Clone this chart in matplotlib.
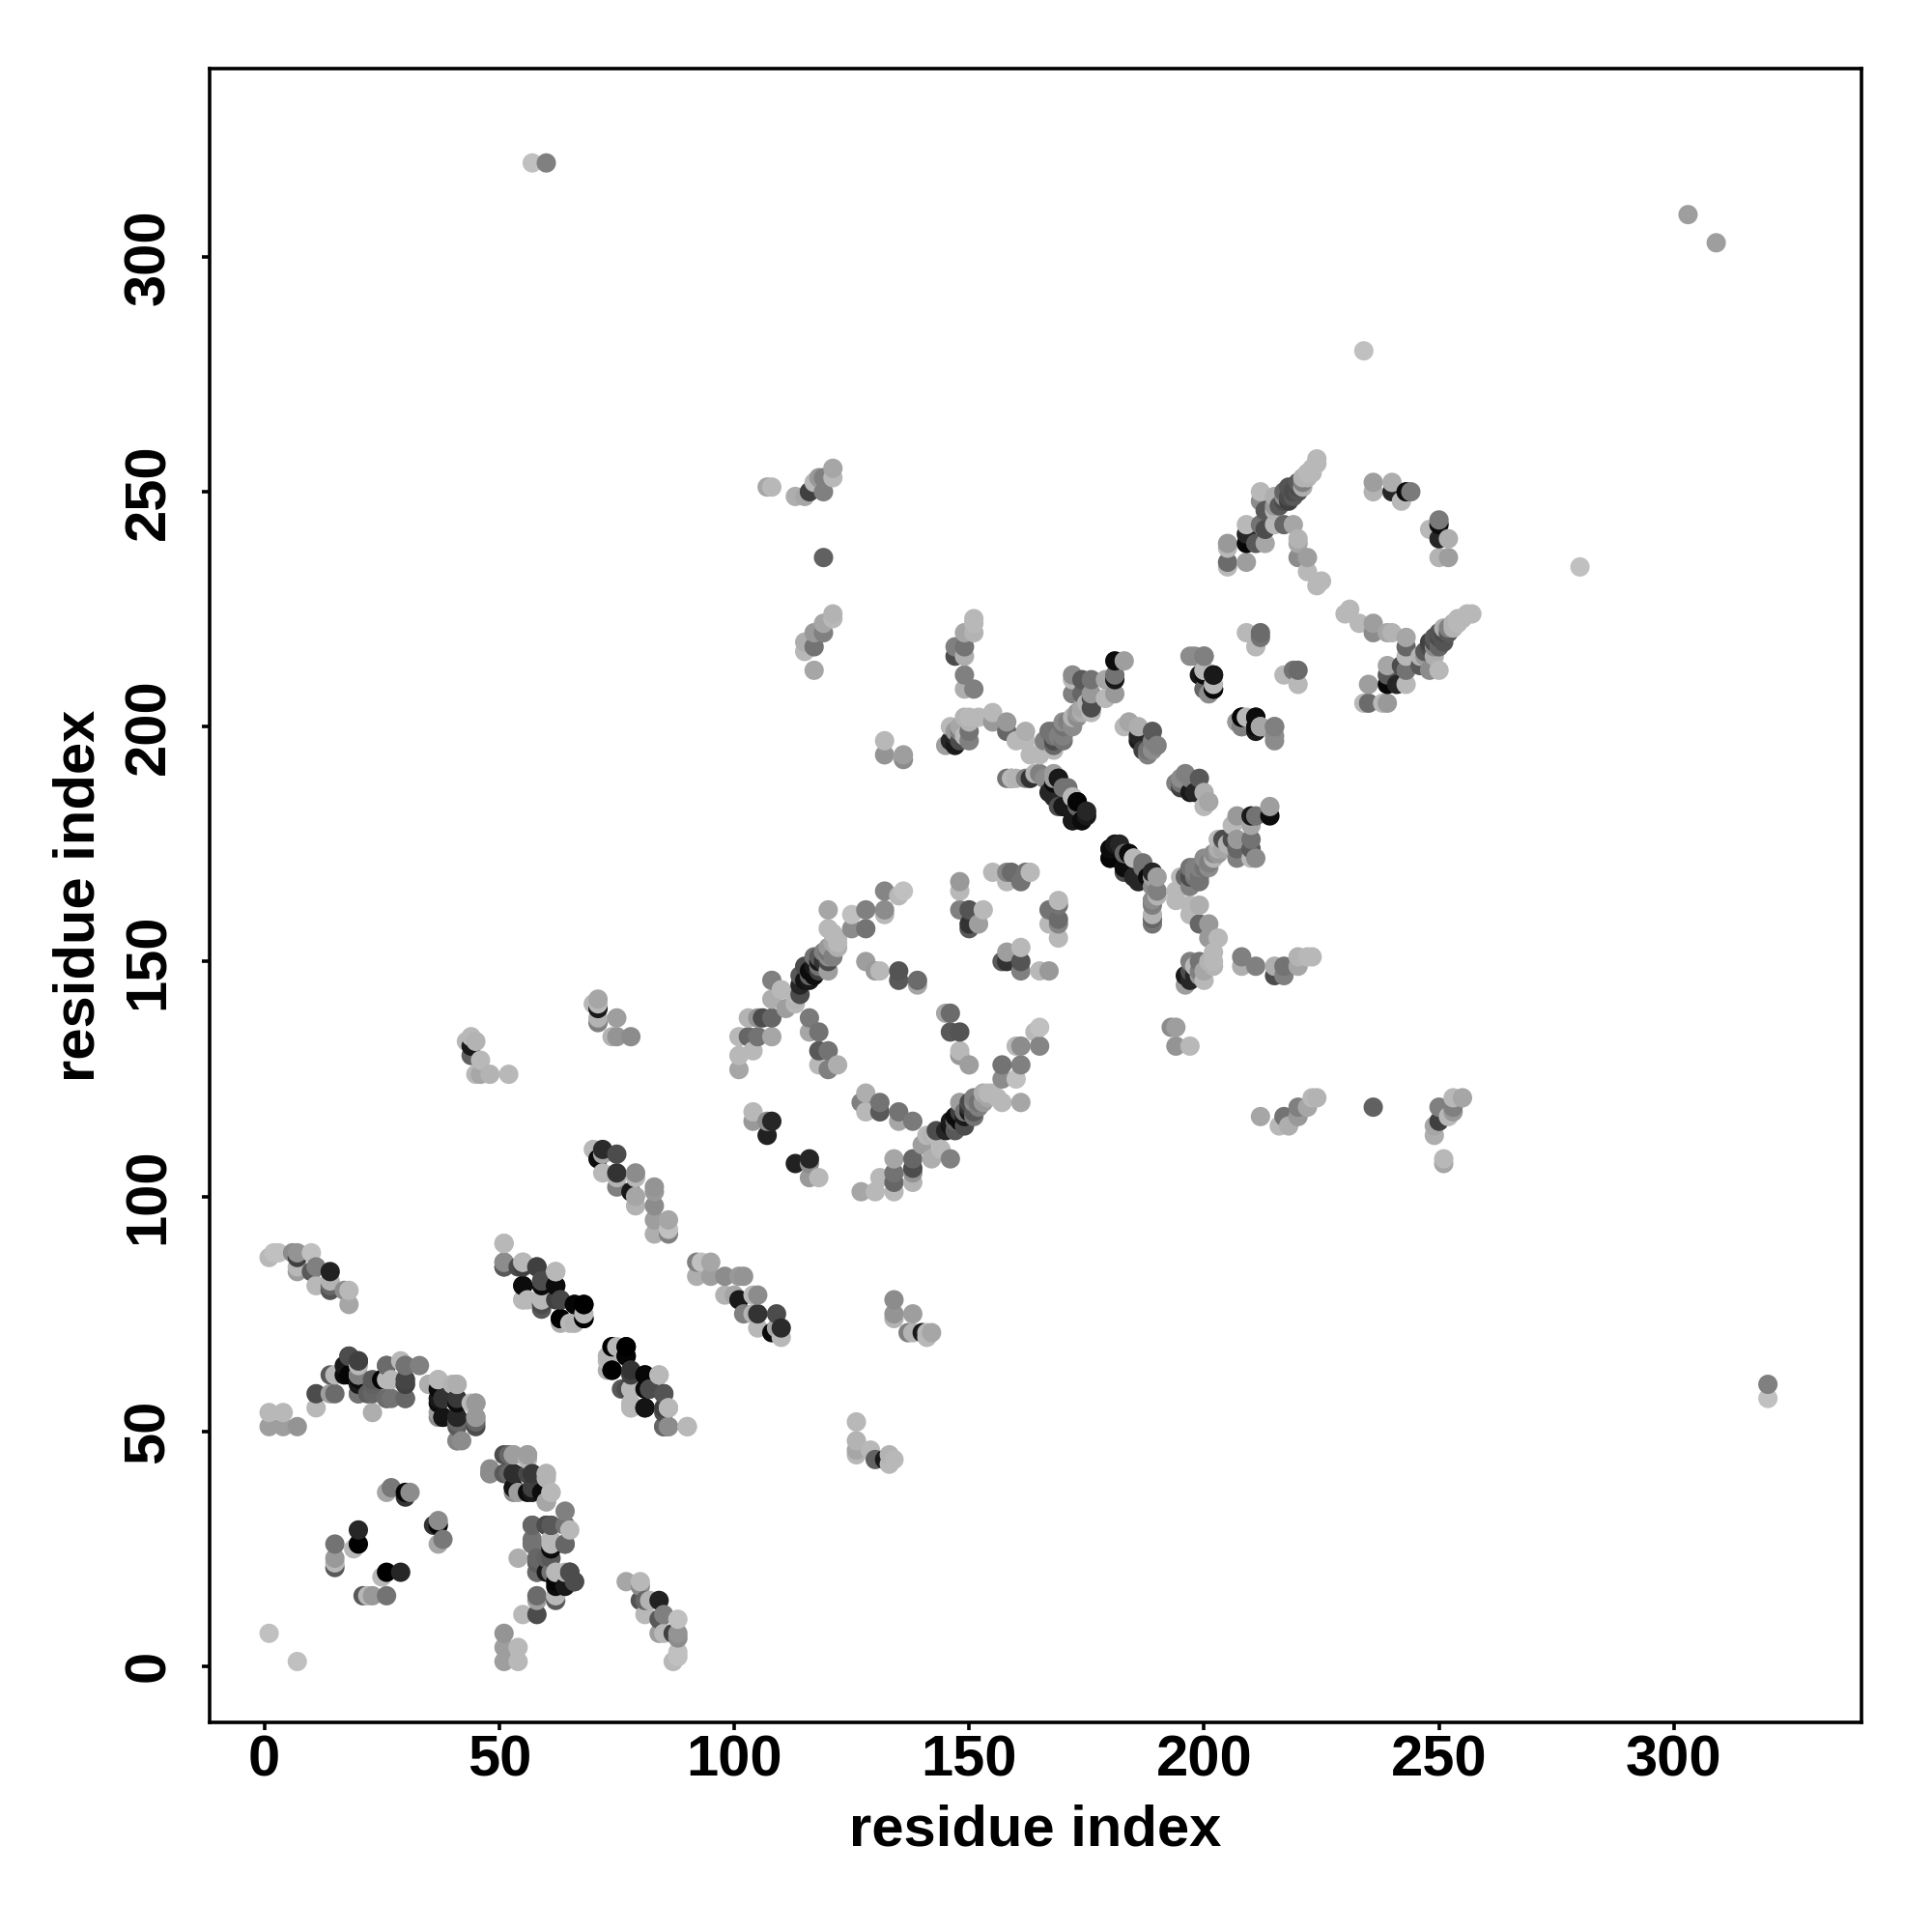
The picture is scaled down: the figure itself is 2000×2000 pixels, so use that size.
import numpy as np
import matplotlib
matplotlib.use('Agg')
import matplotlib.pyplot as plt

# contact map, symmetric: each contact is listed once as (i, j, grey level)
far_pairs = [(1, 7, .75), (57, 320, .75), (60, 320, .5), (303, 309, .62), (234, 280, .75), (236, 119, .38)]

blob_1_88 = [(1, 87, .72), (2, 88, .75), (3, 88, .75), (6, 88, .55), (7, 84, .62), (7, 85, .72), (7, 87, .25),
             (7, 88, .58), (10, 88, .75), (10, 84, .35), (11, 85, .5), (11, 81, .72), (14, 84, .13), (14, 82, .7),
             (14, 81, .4), (14, 80, .33), (17, 80, .55), (18, 80, .72), (18, 77, .65)]

blob_1_66 = [(1, 54, .72), (4, 54, .72), (1, 51, .62), (4, 51, .62), (7, 51, .58), (11, 58, .3), (11, 55, .72),
             (14, 58, .62), (15, 58, .42), (14, 62, .35), (15, 62, .72), (18, 66, .3), (20, 65, .3), (17, 64, .1),
             (17, 62, .05), (20, 61, .45), (20, 62, .72), (20, 60, .1), (20, 58, .42), (23, 60, .38), (23, 58, .4),
             (23, 54, .68), (26, 64, .4), (25, 61, .05), (27, 61, .72), (26, 57, .45), (27, 57, .45), (29, 65, .72),
             (30, 64, .45), (30, 61, .35), (30, 60, .3), (30, 57, .4), (33, 64, .5), (35, 60, .65), (37, 61, .72),
             (37, 57, .1), (40, 60, .7), (41, 60, .7), (38, 57, .25), (37, 54, .62), (38, 53, .08), (41, 56, .28),
             (41, 53, .18), (41, 51, .35), (44, 56, .72), (45, 56, .62), (45, 53, .62), (45, 51, .3), (41, 48, .55),
             (42, 48, .55)]

ring_15_38 = [(21, 15, .35), (22, 15, .72), (23, 15, .6), (26, 15, .45), (25, 19, .72), (26, 20, 0), (29, 20, .15),
              (37, 26, .65), (38, 27, .47), (36, 30, .2), (37, 30, .02), (37, 31, .55)]

blob_47_66 = [(48, 41, .52), (52, 45, .4), (53, 45, .6), (56, 45, .6), (52, 41, .4), (53, 41, .15), (53, 38, .08),
              (53, 37, .55), (56, 41, .05), (57, 41, .22), (57, 38, .2), (56, 37, .05), (60, 41, .68), (60, 35, .68),
              (61, 37, .72), (59, 37, .05), (57, 30, .4), (60, 30, .25), (61, 30, .27), (64, 30, .45), (57, 26, .42),
              (61, 26, .72), (61, 25, .02), (64, 26, .42), (61, 23, .35), (58, 22, .37), (58, 20, .45), (61, 20, .05),
              (62, 20, .5), (62, 18, .02), (64, 20, .72), (65, 20, .25), (66, 18, .3)]

blob_51_90 = [(51, 90, .72), (51, 86, .55), (51, 85, .4), (55, 86, .72), (54, 85, .3), (58, 85, .33), (62, 84, .72),
              (59, 82, .3), (55, 81, .08), (55, 78, .72), (56, 78, .72), (59, 78, .72), (59, 76, .35), (62, 81, .03),
              (63, 78, .2), (62, 78, .25), (66, 77, .02), (68, 77, 0), (63, 74, 0), (66, 73, .7), (68, 75, .72),
              (68, 74, 0), (74, 68, 0), (77, 68, 0), (73, 65, .72), (77, 66, .02), (74, 63, 0), (73, 63, .68),
              (78, 63, .28), (81, 62, .05), (84, 62, .72), (77, 59, .3), (78, 59, .72), (82, 59, .3), (81, 59, .05),
              (85, 58, .25), (78, 55, .72), (81, 55, .05), (86, 55, .72), (85, 55, .25), (85, 51, .35), (86, 51, .55),
              (90, 51, .72)]

blob_92_110 = [(92, 86, .5), (93, 86, .75), (95, 86, .65), (92, 83, .68), (95, 83, .62), (98, 83, .55), (101, 83, .6),
               (102, 83, .58), (98, 79, .7), (100, 79, .65), (101, 78, .1), (104, 79, .72), (105, 79, .55),
               (102, 75, .5), (105, 75, .2), (104, 75, .7), (109, 75, .3), (105, 72, .72), (109, 72, .65),
               (110, 72, .17), (110, 70, .72), (108, 71, .05)]

blob_134_142 = [(134, 78, .55), (134, 75, .58), (134, 74, .7), (138, 75, .62), (137, 71, .5), (138, 71, .7),
                (140, 71, .1), (141, 71, .72), (142, 71, .65), (141, 70, .72)]

blob_126_134 = [(126, 52, .72), (126, 48, .7), (126, 46, .65), (126, 45, .72), (129, 46, .72), (130, 44, .38),
                (132, 44, .1), (133, 45, .7), (134, 44, .72), (133, 43, .72)]

ring_104_118 = [(113, 107, .13), (116, 107, .55), (116, 108, .15), (116, 104, .6), (118, 104, .72)]

arm_127_165 = [(127, 101, .65), (130, 101, .72), (134, 101, .72), (131, 104, .72), (134, 105, .45), (134, 103, .4),
               (134, 108, .65), (138, 108, .4), (138, 106, .3), (138, 105, .58), (138, 103, .7), (142, 108, .68),
               (146, 108, .5), (141, 113, .72), (144, 110, .72), (140, 111, .62), (142, 113, .7), (143, 113, .72),
               (143, 114, .3), (145, 114, .15), (146, 115, .08), (146, 116, .1), (147, 114, .35), (147, 116, .4),
               (147, 117, .05), (148, 116, .05), (148, 118, .25), (149, 115, .3), (149, 117, .1), (149, 118, .45),
               (150, 118, .1), (150, 119, .2), (150, 120, .3), (151, 117, .45), (151, 118, .35), (151, 120, .55),
               (151, 121, .5), (152, 119, .5), (152, 120, .45), (153, 120, .6), (153, 122, .68), (154, 121, .65),
               (154, 122, .72), (155, 122, .72), (156, 121, .72), (148, 120, .62), (157, 120, .72), (161, 120, .65),
               (157, 125, .55), (160, 125, .75), (157, 128, .45), (161, 128, .5), (160, 132, .72), (161, 132, .55),
               (165, 132, .52), (164, 135, .72), (165, 136, .75)]

ring_116_150 = [(128, 122, .68), (127, 120, .5), (128, 118, .72), (131, 120, .45), (131, 118, .35), (135, 118, .45),
                (135, 116, .65), (138, 116, .48), (146, 139, .42), (145, 139, .65), (146, 135, .35), (148, 135, .33),
                (148, 131, .72), (148, 130, .6), (150, 128, .62)]

ring_148_169 = [(148, 167, .6), (148, 165, .72), (148, 161, .5), (150, 161, .33), (153, 161, .72), (150, 158, .2),
                (150, 157, .35), (152, 158, .62), (155, 169, .72), (158, 169, .52), (159, 169, .42), (158, 167, .72),
                (161, 167, .45), (162, 169, .45), (163, 169, .72)]

dark_180_190 = [(180, 174, .05), (182, 175, .15), (180, 172, .1), (183, 173, .4), (184, 173, .02), (185, 172, .72),
                (183, 170, .1), (187, 171, .45), (185, 168, .15), (189, 169, .1), (190, 168, .62), (190, 165, .5),
                (189, 162, .5), (190, 164, .7), (189, 159, .72), (189, 158, .45), (189, 163, .2),
                (159, 189, .4), (160, 189, .7), (163, 189, .55), (166, 189, .55), (168, 189, .62), (169, 189, .15),
                (170, 187, .45), (167, 186, .15), (168, 188, .05), (172, 185, .72), (173, 184, .05), (175, 181, .1),
                (170, 183, .05), (172, 180, .02), (169, 183, .3), (174, 180, .05)]

right_branch = [(207, 181, .6), (210, 181, .1), (211, 181, .45), (214, 183, .62), (214, 181, .05), (206, 179, .72),
                (210, 179, .65), (204, 176, .72), (206, 176, .3), (207, 176, .6), (210, 176, .45), (207, 172, .5),
                (211, 172, .55), (210, 172, .72), (202, 172, .7), (200, 172, .55), (198, 170, .5), (201, 170, .55),
                (199, 168, .45), (197, 168, .3), (195, 168, .72), (194, 165, .72), (194, 163, .72), (199, 170, .5),
                (200, 170, .45), (201, 171, .5), (202, 173, .55), (203, 173, .6), (203, 174, .68), (204, 174, .65),
                (205, 175, .7), (196, 168, .4), (198, 168, .45), (196, 166, .72), (197, 170, .45), (197, 166, .5),
                (199, 167, .45), (198, 169, .5), (203, 176, .72), (204, 176, .3), (207, 174, .4), (210, 174, .35)]

lower_branch = [(197, 162, .72), (199, 162, .68), (197, 160, .72), (199, 158, .4), (201, 158, .6), (201, 155, .6),
                (203, 155, .72), (202, 152, .72), (199, 150, .45), (197, 150, .5), (196, 147, .1), (197, 146, .15),
                (197, 148, .3), (198, 147, .15), (199, 147, .6), (198, 149, .72), (200, 148, .65), (201, 150, .7),
                (202, 150, .72), (199, 148, .5), (202, 149, .7), (200, 146, .72), (196, 145, .62), (208, 151, .5),
                (208, 149, .68), (211, 149, .5), (215, 149, .68), (217, 149, .45), (215, 147, .3), (217, 147, .5),
                (220, 151, .7), (222, 151, .72), (223, 151, .72), (220, 149, .65)]

blob_194_201 = [(195, 189, .55), (197, 189, .5), (195, 187, .25), (197, 186, .1), (199, 189, .35), (200, 186, .68),
                (201, 184, .65), (200, 183, .72), (196, 190, .5), (195, 188, .45), (194, 188, .5), (198, 186, .15)]

blob_196_215 = [(197, 215, .55), (200, 215, .5), (200, 212, .65), (199, 211, .1), (202, 211, .05), (202, 208, .02),
                (200, 208, .5), (201, 207, .6), (202, 209, .72), (207, 201, .55), (208, 202, .03), (208, 200, .4),
                (211, 202, .1), (212, 200, .72), (211, 200, .05), (215, 200, .5), (215, 198, .55)]

blob_217_220 = [(217, 211, .72), (219, 212, .45), (220, 212, .42), (220, 209, .72)]

arm_215_245 = [(231, 225, .72), (230, 224, .72), (233, 222, .72), (236, 222, .62), (236, 220, .55), (240, 220, .7),
               (239, 220, .65), (243, 219, .65), (243, 217, .4), (243, 215, .72), (246, 215, .7)]

band_239_257 = [(257, 224, .72), (256, 224, .72), (255, 223, .72), (254, 223, .72), (254, 222, .72), (253, 222, .7),
                (253, 221, .7), (252, 221, .5), (252, 220, .35), (251, 221, .68), (251, 220, .3), (250, 220, .33),
                (250, 219, .3), (249, 219, .35), (249, 218, .3), (251, 218, .33), (248, 218, .25), (248, 217, .3),
                (247, 216, .35), (247, 215, .6), (249, 217, .55), (250, 217, .4), (249, 215, .68), (239, 213, .65),
                (239, 211, .35), (242, 213, .3), (243, 212, .45), (246, 213, .35), (248, 212, .55), (250, 212, .72),
                (235, 209, .62), (239, 209, .03), (243, 209, .72), (241, 209, .15), (238, 205, .72), (239, 205, .6),
                (235, 205, .42), (234, 205, .72)]

ring_236_252 = [(250, 244, .48), (250, 243, .05), (248, 242, .72), (252, 240, .68), (250, 240, .15), (250, 236, .7),
                (252, 236, .62)]

blob_193_197 = [(194, 136, .62), (193, 136, .55), (194, 132, .58), (197, 132, .72)]

blob_212_224 = [(212, 117, .65), (217, 117, .45), (218, 115, .68), (216, 115, .72), (220, 119, .5), (220, 117, .6),
                (222, 119, .65), (223, 121, .72), (224, 121, .7)]

blob_249_255 = [(249, 113, .68), (249, 115, .65), (250, 119, .5), (250, 116, .25), (253, 118, .6), (252, 117, .72),
                (253, 119, .5), (253, 121, .72), (255, 121, .65), (251, 107, .65), (251, 108, .72)]

regions = [far_pairs, blob_1_88, blob_1_66, ring_15_38, blob_47_66, blob_51_90, blob_92_110, blob_134_142,
           blob_126_134, ring_104_118, arm_127_165, ring_116_150, ring_148_169, dark_180_190, right_branch,
           lower_branch, blob_194_201, blob_196_215, blob_217_220, arm_215_245, band_239_257, ring_236_252,
           blob_193_197, blob_212_224, blob_249_255]

tick_vals = [0, 50, 100, 150, 200, 250, 300]


def plot_contacts():
    plt.rcParams['font.family'] = ['Liberation Sans', 'DejaVu Sans']
    plt.rcParams['font.weight'] = 'bold'

    contacts = np.array([row for region in regions for row in region])
    # mirror over the diagonal, then draw column by column so the overlaps stack the same way
    x = np.concatenate([contacts[:, 0], contacts[:, 1]])
    y = np.concatenate([contacts[:, 1], contacts[:, 0]])
    grey = np.concatenate([contacts[:, 2], contacts[:, 2]])
    order = np.lexsort((y, x))

    fig = plt.figure(figsize=(10, 10), dpi=200)
    ax = fig.add_axes([0.1084, 0.1084, 0.8553, 0.8559])
    ax.scatter(x[order], y[order], c=grey[order], cmap='gray', vmin=0, vmax=1, s=52, linewidths=0)

    ax.set_xlim(-11.7, 340)
    ax.set_ylim(-12, 340)
    ax.set_xticks(tick_vals)
    ax.set_yticks(tick_vals)
    ax.tick_params(axis='x', labelsize=21.5, length=3, width=1.3, pad=1.5)
    ax.tick_params(axis='y', labelsize=21.5, length=3, width=1.3, pad=9.5)
    plt.setp(ax.get_yticklabels(), rotation=90, va='center')
    for spine in ax.spines.values():
        spine.set_linewidth(1.3)
    ax.set_xlabel('residue index', fontsize=21.5, fontweight='bold')
    ax.set_ylabel('residue index', fontsize=21.5, fontweight='bold')
    ax.xaxis.set_label_coords(0.5, -0.049)
    ax.yaxis.set_label_coords(-0.0625, 0.5)

    fig.savefig('out.png', dpi=200)
    plt.close(fig)


if __name__ == "__main__":
    plot_contacts()
